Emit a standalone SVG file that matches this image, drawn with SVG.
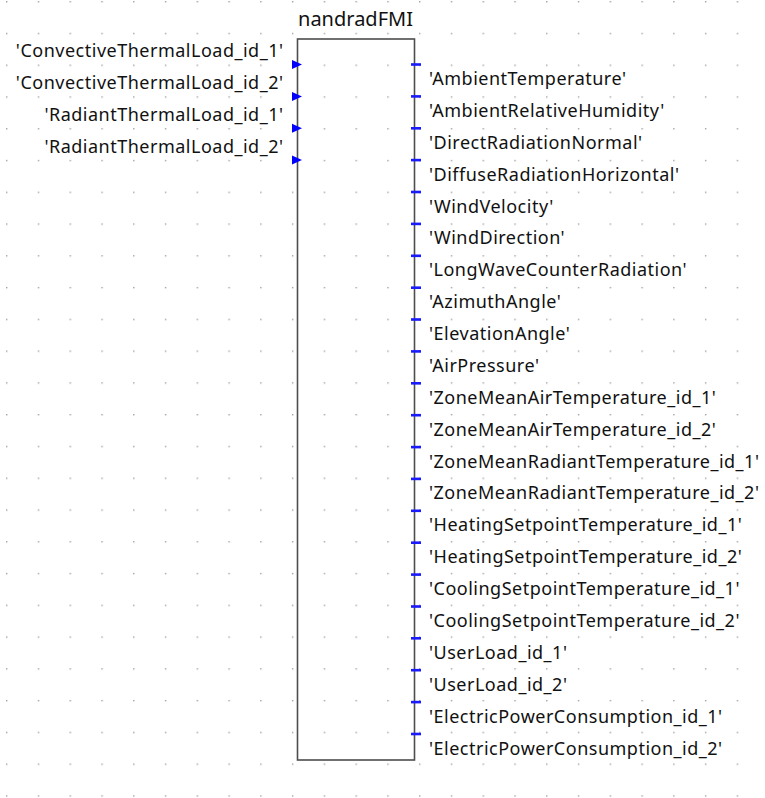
<svg xmlns="http://www.w3.org/2000/svg" width="765" height="798" viewBox="0 0 765 798">
  <defs>
    <pattern id="grid" patternUnits="userSpaceOnUse" x="6" y="1" width="31.77" height="31.77">
      <rect x="0" y="0" width="1.4" height="1.4" fill="#a0a0a0"/>
    </pattern>
    <polygon id="inPort" points="0,-4.5 10,0 0,4.5" fill="#0000ff"/>
    <rect id="outPort" x="0" y="-1.3" width="10" height="2.6" fill="#1a1aff"/>
  </defs>
  <style>
    .lbl { font-family: "Noto Sans", "Open Sans", sans-serif; font-size: 18px; letter-spacing: 0.5px; fill: #111; }
    .in { text-anchor: end; }
    .title { font-family: "Noto Sans", "Open Sans", sans-serif; font-size: 20px; fill: #111; text-anchor: middle; }
    .body { fill: none; stroke: #4d4d4d; stroke-width: 1.6; }
  </style>

  <rect width="765" height="798" fill="#ffffff"/>
  <rect width="765" height="798" fill="url(#grid)"/>

  <g id="connectors"/>

  <g id="nandradFMI">
    <text class="title" x="355.5" y="26">nandradFMI</text>
    <rect class="body" x="297.5" y="39" width="117" height="721"/>

    <!-- input ports -->
    <use href="#inPort" x="292" y="64.5"/>
    <use href="#inPort" x="292" y="96.4"/>
    <use href="#inPort" x="292" y="128.3"/>
    <use href="#inPort" x="292" y="160.1"/>
    <text class="lbl in" x="283.5" y="57">'ConvectiveThermalLoad_id_1'</text>
    <text class="lbl in" x="283.5" y="89">'ConvectiveThermalLoad_id_2'</text>
    <text class="lbl in" x="283.5" y="121">'RadiantThermalLoad_id_1'</text>
    <text class="lbl in" x="283.5" y="153">'RadiantThermalLoad_id_2'</text>

    <!-- output ports -->
    <g>
      <use href="#outPort" x="411" y="64.5"/>
      <use href="#outPort" x="411" y="96.4"/>
      <use href="#outPort" x="411" y="128.3"/>
      <use href="#outPort" x="411" y="160.1"/>
      <use href="#outPort" x="411" y="192"/>
      <use href="#outPort" x="411" y="223.9"/>
      <use href="#outPort" x="411" y="255.8"/>
      <use href="#outPort" x="411" y="287.7"/>
      <use href="#outPort" x="411" y="319.5"/>
      <use href="#outPort" x="411" y="351.4"/>
      <use href="#outPort" x="411" y="383.3"/>
      <use href="#outPort" x="411" y="415.2"/>
      <use href="#outPort" x="411" y="447.1"/>
      <use href="#outPort" x="411" y="478.9"/>
      <use href="#outPort" x="411" y="510.8"/>
      <use href="#outPort" x="411" y="542.7"/>
      <use href="#outPort" x="411" y="574.6"/>
      <use href="#outPort" x="411" y="606.5"/>
      <use href="#outPort" x="411" y="638.3"/>
      <use href="#outPort" x="411" y="670.2"/>
      <use href="#outPort" x="411" y="702.1"/>
      <use href="#outPort" x="411" y="734"/>
    </g>
    <g class="lbl">
      <text x="429" y="85">'AmbientTemperature'</text>
      <text x="429" y="117">'AmbientRelativeHumidity'</text>
      <text x="429" y="149">'DirectRadiationNormal'</text>
      <text x="429" y="181">'DiffuseRadiationHorizontal'</text>
      <text x="429" y="212.5">'WindVelocity'</text>
      <text x="429" y="244.4">'WindDirection'</text>
      <text x="429" y="276.3">'LongWaveCounterRadiation'</text>
      <text x="429" y="308.2">'AzimuthAngle'</text>
      <text x="429" y="340">'ElevationAngle'</text>
      <text x="429" y="371.9">'AirPressure'</text>
      <text x="429" y="403.8">'ZoneMeanAirTemperature_id_1'</text>
      <text x="429" y="435.7">'ZoneMeanAirTemperature_id_2'</text>
      <text x="429" y="467.6">'ZoneMeanRadiantTemperature_id_1'</text>
      <text x="429" y="499.4">'ZoneMeanRadiantTemperature_id_2'</text>
      <text x="429" y="531.3">'HeatingSetpointTemperature_id_1'</text>
      <text x="429" y="563.2">'HeatingSetpointTemperature_id_2'</text>
      <text x="429" y="595.1">'CoolingSetpointTemperature_id_1'</text>
      <text x="429" y="627">'CoolingSetpointTemperature_id_2'</text>
      <text x="429" y="658.8">'UserLoad_id_1'</text>
      <text x="429" y="690.7">'UserLoad_id_2'</text>
      <text x="429" y="722.6">'ElectricPowerConsumption_id_1'</text>
      <text x="429" y="754.5">'ElectricPowerConsumption_id_2'</text>
    </g>
  </g>
</svg>
